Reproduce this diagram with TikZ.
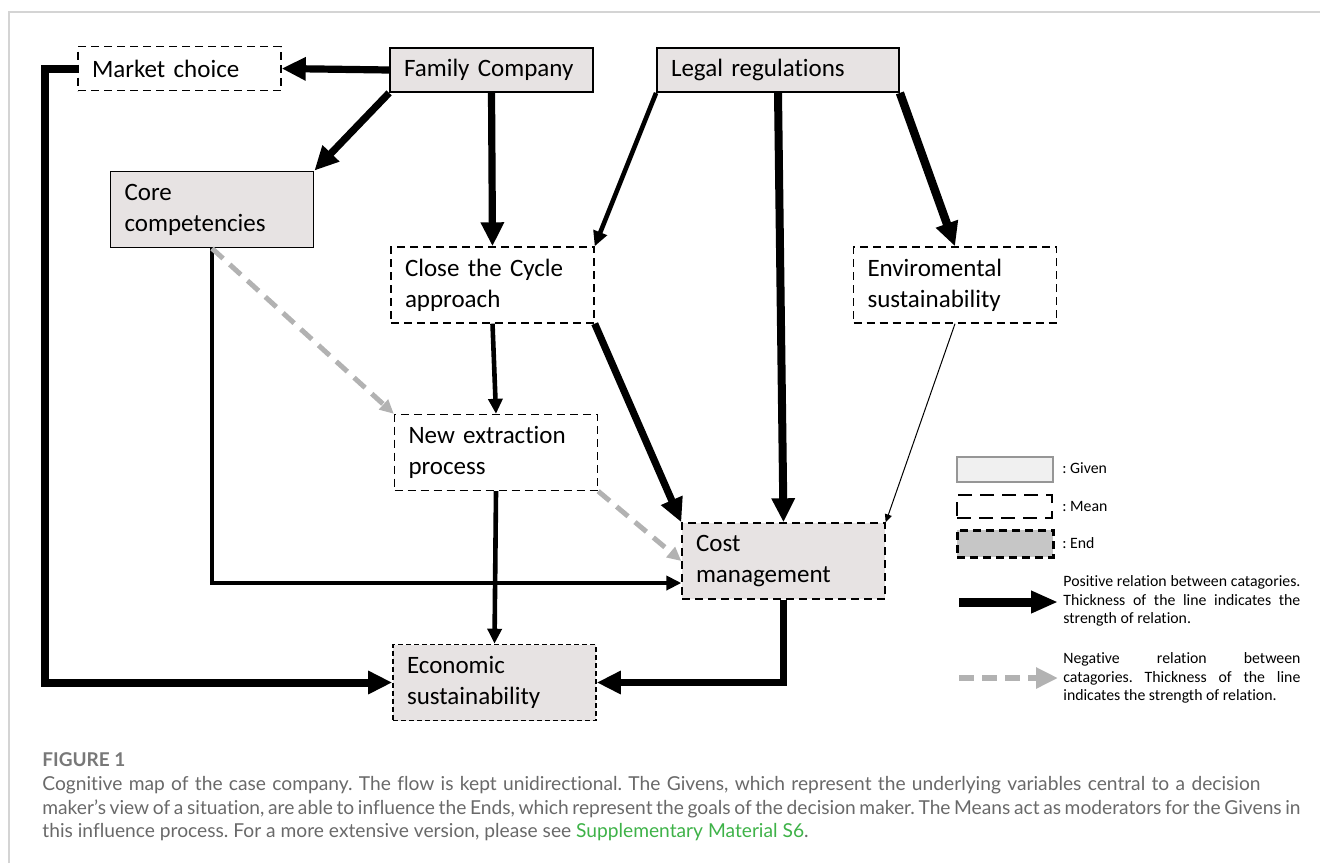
\documentclass[tikz,border=0pt]{standalone}
\usepackage{fontspec}
\setmainfont{Carlito}[Ligatures=NoCommon]
\newfontfamily\capfont{Lato}[Ligatures=NoCommon]
\frenchspacing
\usetikzlibrary{arrows.meta,
                calc
                }

\definecolor{boxgray}{RGB}{231,227,227}
\definecolor{givenfill}{RGB}{240,240,240}
\definecolor{givenedge}{RGB}{150,150,150}
\definecolor{endgray}{RGB}{198,198,198}
\definecolor{neggray}{RGB}{178,178,178}
\definecolor{framegray}{RGB}{212,212,212}
\definecolor{capgray}{RGB}{105,105,105}
\definecolor{suppgreen}{RGB}{62,178,72}

\tikzset{
    mapbox/.style={text width=87.5pt, inner xsep=7pt, inner ysep=2pt, align=left,
        font=\fontsize{12.5}{15.5}\selectfont},
    givenbox/.style={mapbox, draw, line width=0.9pt, fill=boxgray},
    meanbox/.style={mapbox, draw, line width=0.7pt, dash pattern=on 4pt off 2.5pt},
    endbox/.style={mapbox, draw, line width=0.8pt, fill=boxgray, dash pattern=on 2.5pt off 1.5pt},
    onerow/.style={minimum height=22pt},
    tworow/.style={minimum height=38pt},
    thickarr/.style={line width=3.6pt, -{Triangle[length=12pt,width=11pt]}},
    midarr/.style={line width=2.3pt, -{Triangle[length=7.5pt,width=7pt]}},
    thinarr/.style={line width=0.5pt, -{Triangle[length=4pt,width=3.5pt]}},
    negarr/.style={line width=2.5pt, neggray, dash pattern=on 7.5pt off 4.5pt,
        -{Triangle[length=7pt,width=6.5pt]}},
    legtext/.style={anchor=west, inner sep=0, font=\fontsize{7.9}{9.2}\selectfont, align=left},
    captext/.style={anchor=base west, inner sep=0, text=capgray, font=\capfont\fontsize{9.6}{11}\selectfont}
}

\begin{document}
\begin{tikzpicture}[x=0.5pt,y=-0.5pt]
    \useasboundingbox (0,0) rectangle (1320,863);
    \draw[framegray, line width=0.6pt] (9,863) -- (9,12) -- (1320,12);

    % boxes
    \node[meanbox, onerow] (mc) at (179.5,68.5) {Market choice};
    \node[givenbox, onerow] (fc) at (491.5,70) {Family Company};
    \node[givenbox, onerow, text width=107pt] (lr) at (778,70) {Legal regulations};
    \node[givenbox, tworow] (cc) at (212,209.5) {Core\\competencies};
    \node[meanbox, tworow] (ct) at (492.5,285) {Close the Cycle\\approach};
    \node[meanbox, tworow] (es) at (955,285) {Enviromental\\sustainability};
    \node[meanbox, tworow] (ne) at (496,452.5) {New extraction\\process};
    \node[meanbox, tworow, fill=boxgray] (cm) at (783.5,561) {Cost\\management};
    \node[endbox, tworow] (ec) at (494.5,682.5) {Economic\\sustainability};

    % relations
    \draw[thickarr] (fc.west) -- (mc.east);
    \draw[thickarr] (fc.south west) -- (cc.north east);
    \draw[thickarr] (fc.south) -- (ct.north);
    \draw[midarr] (lr.south west) -- (ct.north east);
    \draw[thickarr, line width=4pt] (lr.south) -- (cm.north);
    \draw[thickarr, line width=4.2pt] (lr.south east) -- (es.north);
    \draw[thinarr] (es.south) -- (cm.north east);
    \draw[midarr] (ct.south) -- (ne.north);
    \draw[thickarr] (ct.south east) -- (cm.north west);
    \draw[midarr] (cc.south) |- ($(cm.west)+(0,22)$);
    \draw[negarr] (cc.south) -- (ne.north west);
    \draw[negarr] (ne.south east) -- (cm.west);
    \draw[midarr] (ne.south) -- (ec.north);
    \draw[thickarr] (cm.south) |- (ec.east);
    \draw[thickarr, line width=4pt] (mc.west) -- ++(-32,0) |- (ec.west);

    % legend
    \node[draw=givenedge, line width=0.6pt, fill=givenfill, minimum width=48pt,
        minimum height=12.5pt, inner sep=0] (lgiven) at (1005,469.5) {};
    \node[draw, line width=1pt, dash pattern=on 7pt off 4pt, minimum width=47.5pt,
        minimum height=11.5pt, inner sep=0] (lmean) at (1004.5,506.5) {};
    \node[draw, line width=1.5pt, fill=endgray, dash pattern=on 4pt off 2.5pt,
        minimum width=48pt, minimum height=13.5pt, inner sep=0] (lend) at (1005,543.5) {};
    \node[legtext] (tgiven) at (1062,468) {: Given};
    \node[legtext] (tmean) at (1062,506) {: Mean};
    \node[legtext] (tend) at (1062,543) {: End};

    \coordinate (pstart) at (959,602);
    \coordinate (pend) at (1058,602);
    \draw[line width=4.5pt, -{Triangle[length=13.5pt,width=10.5pt]}] (pstart) -- (pend);
    \node[legtext] (tpos) at (1063,601) {%
        \makebox[118.5pt][s]{Positive relation between catagories.}\\
        \makebox[118.5pt][s]{Thickness of the line indicates the}\\
        strength of relation.};

    \coordinate (nstart) at (959,678);
    \coordinate (nend) at (1058,678);
    \draw[line width=2.8pt, neggray, dash pattern=on 7.5pt off 4pt,
        -{Triangle[length=11pt,width=10pt]}] (nstart) -- (nend);
    \node[legtext] (tneg) at (1063,678) {%
        \makebox[118.5pt][s]{Negative relation between}\\
        \makebox[118.5pt][s]{catagories. Thickness of the line}\\
        indicates the strength of relation.};

    % caption
    \node[captext, font=\capfont\bfseries\fontsize{9.5}{11}\selectfont, text=capgray!90] (fig) at (42,766) {FIGURE 1};
    \node[captext] (cap1) at (42,790) {\makebox[609pt][s]{Cognitive map of the case company. The flow is kept unidirectional. The Givens, which represent the underlying variables central to a decision}};
    \node[captext] (cap2) at (42,814) {\makebox[629pt][s]{maker’s view of a situation, are able to influence the Ends, which represent the goals of the decision maker. The Means act as moderators for the Givens in}};
    \node[captext] (cap3) at (42,837) {this influence process. For a more extensive version, please see \textcolor{suppgreen}{Supplementary Material S6}.};
\end{tikzpicture}
\end{document}
